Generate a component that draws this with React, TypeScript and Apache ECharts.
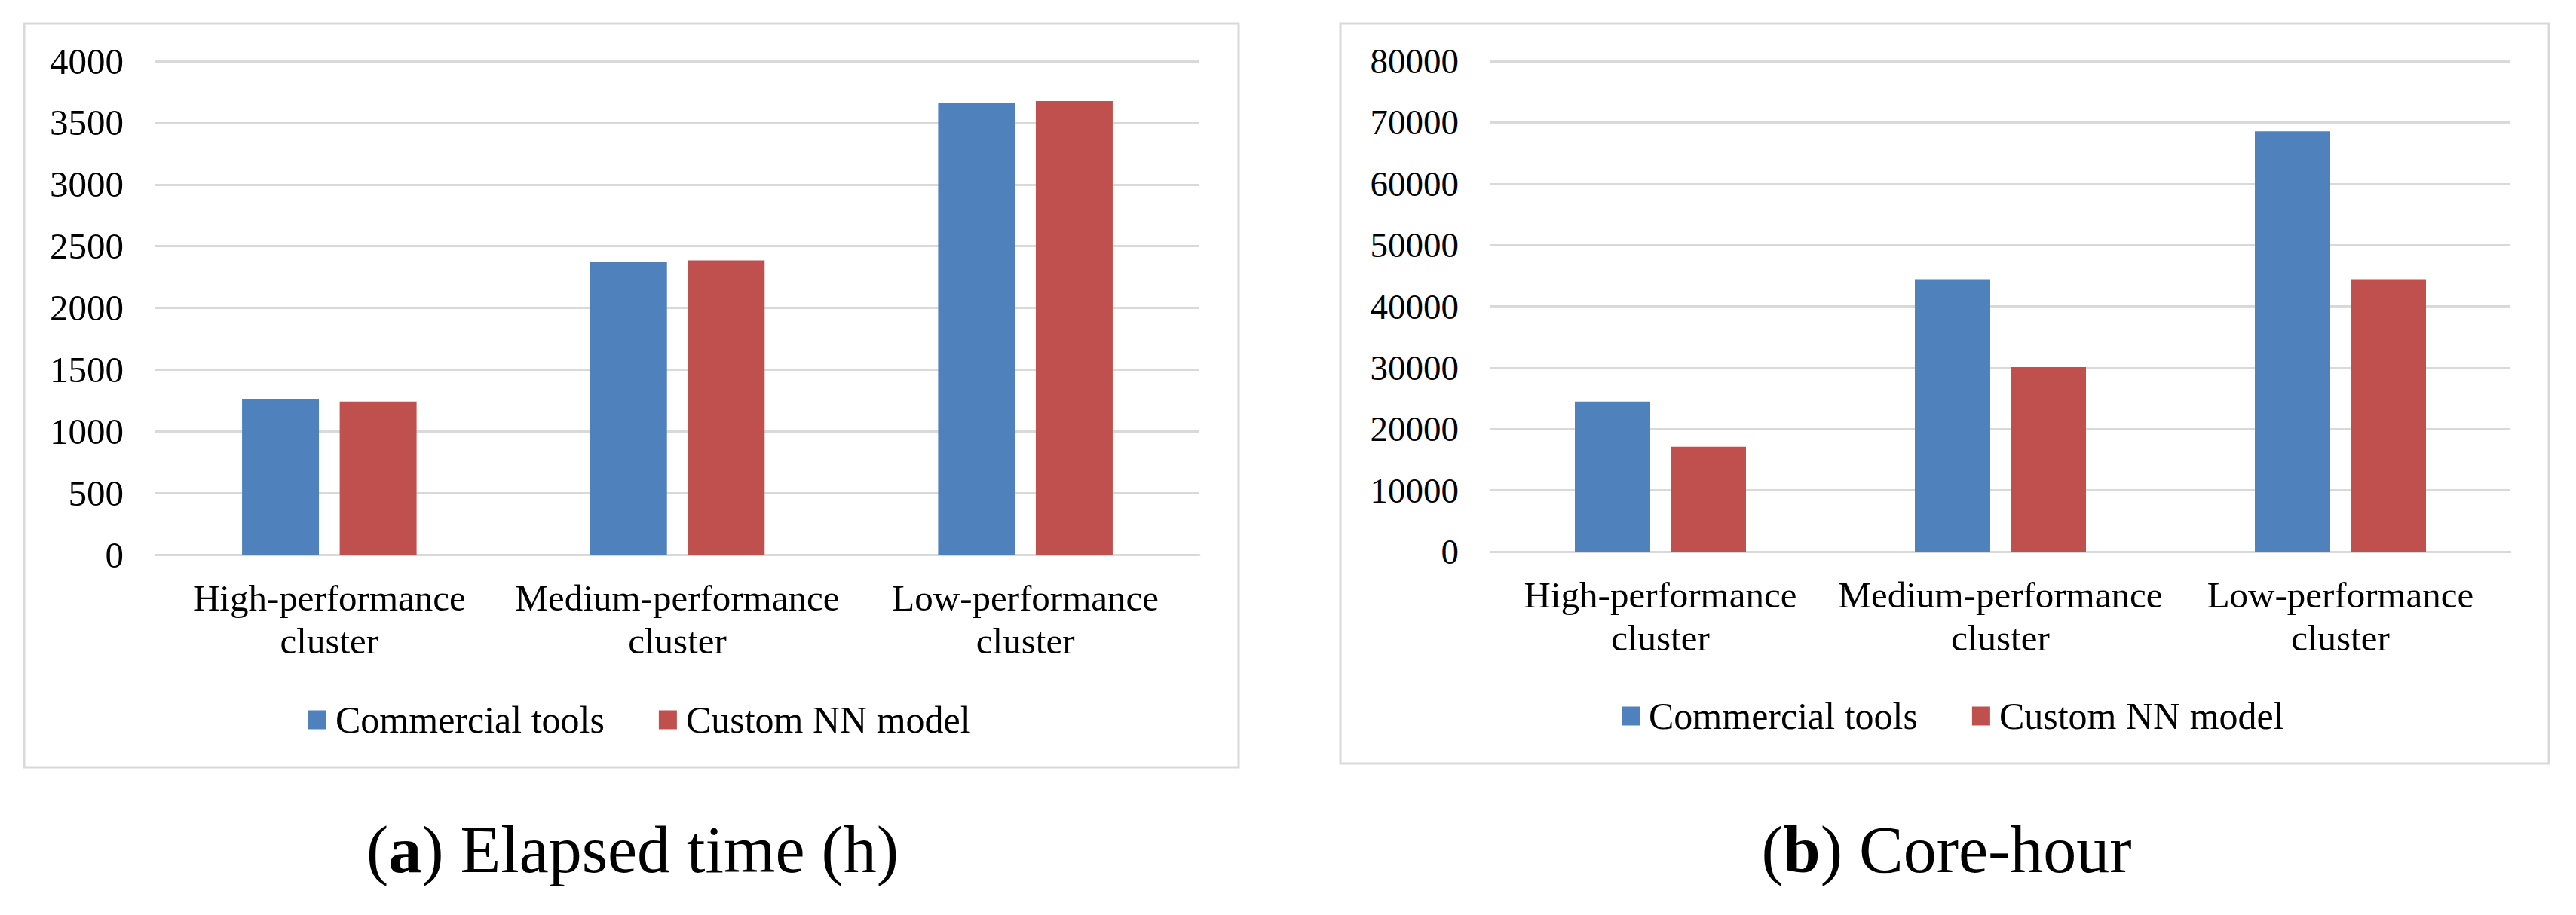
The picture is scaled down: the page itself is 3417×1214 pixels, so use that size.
import React, { useEffect, useRef } from "react";
import * as echarts from "echarts";

const categories = [
  "High-performance\ncluster",
  "Medium-performance\ncluster",
  "Low-performance\ncluster",
];
const seriesNames = ["Commercial tools", "Custom NN model"];
const elapsedCommercial = [1258, 2370, 3660];
const elapsedCustomNN = [1241, 2384, 3676];
const coreHourCommercial = [24480, 44430, 68530];
const coreHourCustomNN = [17110, 30100, 44430];
const captionA = "({b|a}) Elapsed time (h)";
const captionB = "({b|b}) Core-hour";

const FONT = "Liberation Serif";
const BLUE = "#4f81bd";
const RED = "#c0504d";
const GRID = "#d9d9d9";

export default function App() {
  const ref = useRef<HTMLDivElement>(null);
  useEffect(() => {
    if (!ref.current) return;
    const chart = echarts.init(ref.current, undefined, { renderer: "svg" });
    const xAxisBase = (gridIndex: number, margin: number) => ({
      type: "category",
      gridIndex,
      data: categories,
      axisLine: { show: true, lineStyle: { color: GRID, width: 3 } },
      axisTick: { show: false },
      axisLabel: {
        interval: 0,
        color: "#000",
        fontFamily: FONT,
        fontSize: 49,
        lineHeight: 57,
        margin,
      },
    });
    const yAxisBase = (gridIndex: number, max: number, interval: number, fontSize: number) => ({
      type: "value",
      gridIndex,
      min: 0,
      max,
      interval,
      axisLine: { show: false },
      axisTick: { show: false },
      splitLine: { show: true, lineStyle: { color: GRID, width: 3 } },
      axisLabel: {
        color: "#000",
        fontFamily: FONT,
        fontSize,
        margin: 42,
        formatter: (v: number) => String(v),
      },
    });
    const legendBase = (left: number, top: number) => ({
      left,
      top,
      orient: "horizontal",
      icon: "rect",
      itemWidth: 24,
      itemHeight: 25,
      itemGap: 72,
      data: seriesNames,
      textStyle: {
        color: "#000",
        fontFamily: FONT,
        fontSize: 50,
        lineHeight: 50,
        padding: [0, 0, 0, 7],
      },
    });
    const bar = (name: string, data: number[], color: string, idx: number, barWidth: number) => ({
      type: "bar",
      name,
      data,
      xAxisIndex: idx,
      yAxisIndex: idx,
      barWidth,
      barGap: "27%",
      itemStyle: { color },
    });
    chart.setOption({
      animation: false,
      backgroundColor: "#fff",
      textStyle: { fontFamily: FONT },
      grid: [
        { left: 206, top: 81, width: 1385, height: 655 },
        { left: 1977, top: 81, width: 1353, height: 651 },
      ],
      xAxis: [xAxisBase(0, 29), xAxisBase(1, 29)],
      yAxis: [yAxisBase(0, 4000, 500, 49), yAxisBase(1, 80000, 10000, 47)],
      legend: [legendBase(404, 925), legendBase(2146, 920)],
      series: [
        bar(seriesNames[0], elapsedCommercial, BLUE, 0, 102),
        bar(seriesNames[1], elapsedCustomNN, RED, 0, 102),
        bar(seriesNames[0], coreHourCommercial, BLUE, 1, 100),
        bar(seriesNames[1], coreHourCustomNN, RED, 1, 100),
      ],
      graphic: [
        {
          type: "rect",
          z: -10,
          shape: { x: 32, y: 31, width: 1611, height: 987 },
          style: { fill: "#fff", stroke: GRID, lineWidth: 3 },
        },
        {
          type: "rect",
          z: -10,
          shape: { x: 1778, y: 31, width: 1603, height: 982 },
          style: { fill: "#fff", stroke: GRID, lineWidth: 3 },
        },
        {
          type: "text",
          x: 839,
          y: 1127,
          style: {
            text: captionA,
            fill: "#000",
            fontFamily: FONT,
            fontSize: 88,
            align: "center",
            verticalAlign: "middle",
            rich: { b: { fontWeight: "bold", fontSize: 88, fontFamily: FONT, fill: "#000" } },
          },
        },
        {
          type: "text",
          x: 2582,
          y: 1127,
          style: {
            text: captionB,
            fill: "#000",
            fontFamily: FONT,
            fontSize: 88,
            align: "center",
            verticalAlign: "middle",
            rich: { b: { fontWeight: "bold", fontSize: 88, fontFamily: FONT, fill: "#000" } },
          },
        },
      ],
    });
    return () => chart.dispose();
  }, []);
  return (
    <div
      ref={ref}
      style={{ position: "fixed", left: 0, top: 0, width: 3417, height: 1214, background: "#fff" }}
    />
  );
}
